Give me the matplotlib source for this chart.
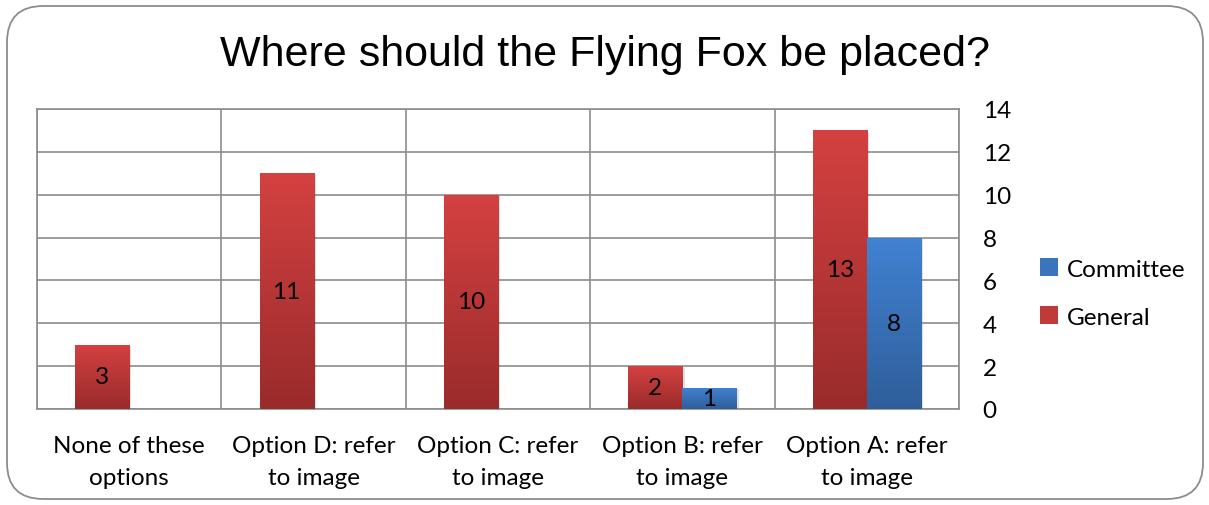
import matplotlib
matplotlib.use("Agg")

import matplotlib.pyplot as plt
import numpy as np
from matplotlib.patches import FancyBboxPatch, Patch
from matplotlib.colors import LinearSegmentedColormap

# data
categories = ["None of these\noptions", "Option D: refer\nto image", "Option C: refer\nto image",
              "Option B: refer\nto image", "Option A: refer\nto image"]
general = [3, 11, 10, 2, 13]
committee = [0, 0, 0, 1, 8]
yticks = [0, 2, 4, 6, 8, 10, 12, 14]

LABEL_FONT = ["Lato", "DejaVu Sans"]
FS = 17.5

red_cmap = LinearSegmentedColormap.from_list("red", ["#9a2b2b", "#d44141"])
blue_cmap = LinearSegmentedColormap.from_list("blue", ["#2f5e9a", "#4182d2"])

fig = plt.figure(figsize=(12.09, 5.06), dpi=100)
ax = fig.add_axes([37 / 1209, 1 - 410 / 506, 922 / 1209, 300 / 506])

# rounded chart border
border = FancyBboxPatch((7 / 1209, 6 / 506), 1196 / 1209, 493 / 506,
                        boxstyle="round,pad=0,rounding_size=0.03",
                        transform=fig.transFigure, fill=False,
                        edgecolor="#8c8c8c", linewidth=1.3, mutation_aspect=1209 / 506)
fig.patches.append(border)

x = np.arange(len(categories))
w = 0.293


def gradient_bars(xs, vals, cmap):
    bars = ax.bar(xs, vals, w, color="none", edgecolor="none", zorder=3)
    grad = np.linspace(0, 1, 256).reshape(-1, 1)
    for b in bars:
        if b.get_height() <= 0:
            continue
        # soft shadow
        ax.bar(b.get_x() + b.get_width() / 2 + 0.012, b.get_height(), w,
               bottom=-0.08, color="#000000", alpha=0.12, zorder=2)
        im = ax.imshow(grad, cmap=cmap, aspect="auto", origin="lower",
                       extent=[b.get_x(), b.get_x() + b.get_width(), 0, b.get_height()],
                       zorder=3)
        im.set_clip_path(b)
    return bars


gb = gradient_bars(x - w / 2, general, red_cmap)
cb = gradient_bars(x + w / 2, committee, blue_cmap)

for xs, vals in [(x - w / 2, general), (x + w / 2, committee)]:
    for xi, v in zip(xs, vals):
        if v > 0:
            ax.text(xi, v / 2, str(v), ha="center", va="center", fontsize=FS,
                    family=LABEL_FONT, color="black", zorder=5)

ax.set_xlim(-0.5, len(categories) - 0.5)
ax.set_ylim(0, 14)
ax.set_yticks(yticks)
ax.set_yticklabels([str(t) for t in yticks], family=LABEL_FONT, fontsize=FS)
ax.yaxis.tick_right()
ax.tick_params(axis="y", length=0, pad=17)
ax.set_xticks(x)
ax.set_xticklabels(categories, family=LABEL_FONT, fontsize=FS, linespacing=1.65)
ax.tick_params(axis="x", length=0, pad=18.5)

# grid: horizontal at ticks, vertical at category boundaries
for t in yticks:
    ax.axhline(t, color="#8c8c8c", linewidth=1.2, zorder=1)
for b in np.arange(-0.5, len(categories), 1):
    ax.axvline(b, color="#8c8c8c", linewidth=1.2, zorder=1)
for s in ax.spines.values():
    s.set_color("#8c8c8c")
    s.set_linewidth(1.2)

fig.text(0.5, 1 - 55 / 506, "Where should the Flying Fox be placed?", ha="center", va="center",
         fontsize=31, family=["Liberation Sans", "DejaVu Sans"])

# legend
handles = [Patch(facecolor="#3a74bd", label="Committee"), Patch(facecolor="#c13a3a", label="General")]
fig.legend(handles=handles, loc="center left", bbox_to_anchor=(1018 / 1209, 1 - 294 / 506),
           frameon=False, prop={"family": LABEL_FONT, "size": FS}, handlelength=0.75,
           handleheight=0.75, handletextpad=0.35, labelspacing=1.1)

fig.savefig("out.png", dpi=100)
